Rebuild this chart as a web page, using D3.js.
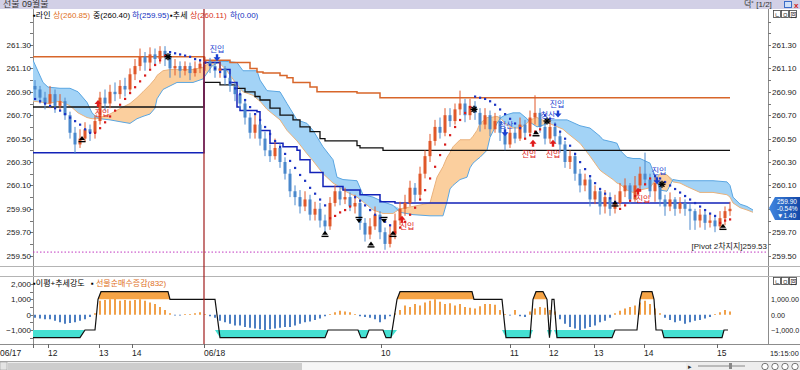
<!DOCTYPE html>
<html><head><meta charset="utf-8">
<script src="https://cdn.jsdelivr.net/npm/d3@7"></script>
<style>
body{margin:0;background:#fff;overflow:hidden}
svg{display:block;font-family:"Liberation Sans","Noto Sans CJK KR",sans-serif}
</style></head><body>
<svg id="chart" width="800" height="370"></svg>
<script>
// ---------------- DATA ----------------
const open = [260.95,260.92,260.85,260.80,260.88,260.78,260.82,260.70,260.55,260.45,
260.50,260.58,260.55,260.65,260.85,260.80,260.90,260.88,260.95,260.92,
261.05,261.12,261.20,261.15,261.22,261.18,261.25,261.20,261.10,261.12,
261.08,261.12,261.06,261.10,261.14,261.16,261.12,261.08,261.10,261.02,
260.95,260.88,260.80,260.68,260.55,260.62,260.50,260.40,260.35,260.42,
260.30,260.20,260.05,260.00,259.92,259.98,259.85,259.90,259.80,259.75,
259.95,260.05,259.98,260.00,259.92,259.95,259.78,259.68,259.75,259.85,
259.70,259.60,259.68,259.80,259.90,259.95,260.08,260.02,260.20,260.35,
260.48,260.60,260.55,260.70,260.65,260.75,260.80,260.70,260.78,260.72,
260.62,260.70,260.58,260.65,260.55,260.45,260.55,260.50,260.62,260.55,
260.68,260.72,260.60,260.50,260.60,260.52,260.45,260.30,260.35,260.20,
260.10,260.15,259.98,260.05,259.92,260.00,259.90,259.95,260.05,260.10,
259.98,260.10,260.20,260.15,260.05,260.12,259.98,259.92,259.98,259.90,
259.95,259.90,259.88,259.80,259.85,259.78,259.80,259.75,259.82,259.88];
const close = [260.92,260.85,260.80,260.88,260.78,260.82,260.70,260.55,260.45,260.50,
260.58,260.55,260.65,260.85,260.80,260.90,260.88,260.95,260.92,261.05,
261.12,261.20,261.15,261.22,261.18,261.25,261.20,261.10,261.12,261.08,
261.12,261.06,261.10,261.14,261.16,261.12,261.08,261.10,261.02,260.95,
260.88,260.80,260.68,260.55,260.62,260.50,260.40,260.35,260.42,260.30,
260.20,260.05,260.00,259.92,259.98,259.85,259.90,259.80,259.75,259.95,
260.05,259.98,260.00,259.92,259.95,259.78,259.68,259.75,259.85,259.70,
259.60,259.68,259.80,259.90,259.95,260.08,260.02,260.20,260.35,260.48,
260.60,260.55,260.70,260.65,260.75,260.80,260.70,260.78,260.72,260.62,
260.70,260.58,260.65,260.55,260.45,260.55,260.50,260.62,260.55,260.68,
260.72,260.60,260.50,260.60,260.52,260.45,260.30,260.35,260.20,260.10,
260.15,259.98,260.05,259.92,260.00,259.90,259.95,260.05,260.10,259.98,
260.10,260.20,260.15,260.05,260.12,259.98,259.92,259.98,259.90,259.95,
259.90,259.88,259.80,259.85,259.78,259.80,259.75,259.82,259.88,259.90];
const high = [261.00,260.95,260.90,260.95,260.92,260.88,260.85,260.73,260.60,260.58,
260.64,260.62,260.70,260.90,260.92,260.96,260.98,261.00,261.02,261.10,
261.18,261.27,261.24,261.28,261.27,261.29,261.29,261.24,261.18,261.16,
261.16,261.15,261.16,261.18,261.20,261.19,261.16,261.16,261.12,261.05,
260.98,260.92,260.84,260.72,260.70,260.66,260.56,260.45,260.50,260.46,
260.34,260.24,260.10,260.06,260.05,260.02,259.96,259.95,259.85,260.00,
260.10,260.08,260.08,260.04,260.02,259.98,259.82,259.82,259.92,259.88,
259.74,259.76,259.86,259.96,260.02,260.14,260.12,260.26,260.40,260.54,
260.66,260.68,260.76,260.76,260.80,260.91,260.84,260.84,260.82,260.76,
260.76,260.74,260.72,260.70,260.60,260.60,260.60,260.68,260.66,260.74,
260.87,260.76,260.64,260.66,260.64,260.56,260.48,260.40,260.38,260.24,
260.20,260.18,260.10,260.08,260.06,260.04,260.02,260.12,260.16,260.12,
260.18,260.26,260.38,260.20,260.18,260.14,260.02,260.04,260.00,260.00,
259.98,259.94,259.90,259.90,259.88,259.86,259.84,259.88,259.92,259.96];
const low = [260.85,260.80,260.75,260.76,260.72,260.74,260.66,260.50,260.37,260.42,
260.47,260.48,260.50,260.62,260.74,260.76,260.82,260.84,260.86,260.90,
261.00,261.08,261.08,261.10,261.12,261.14,261.12,261.02,261.04,261.02,
261.04,261.00,261.03,261.06,261.08,261.06,261.02,261.02,260.96,260.90,
260.82,260.75,260.62,260.50,260.50,260.44,260.35,260.30,260.32,260.25,
260.15,260.00,259.93,259.86,259.88,259.80,259.80,259.74,259.70,259.72,
259.92,259.93,259.94,259.88,259.86,259.72,259.62,259.64,259.72,259.64,
259.55,259.57,259.64,259.76,259.84,259.92,259.96,259.98,260.16,260.30,
260.44,260.50,260.52,260.60,260.62,260.70,260.64,260.66,260.66,260.56,
260.58,260.52,260.55,260.48,260.40,260.42,260.46,260.48,260.50,260.52,
260.62,260.55,260.45,260.46,260.46,260.38,260.25,260.24,260.14,260.04,
260.05,259.92,259.94,259.85,259.86,259.84,259.86,259.92,260.00,259.94,
259.96,260.06,260.10,260.00,259.96,259.92,259.84,259.88,259.84,259.86,
259.84,259.72,259.72,259.74,259.72,259.74,259.70,259.72,259.76,259.84];

// Parabolic SAR
const sar = [260.84,260.82,260.80,260.78,260.76,260.74,260.71,260.68,260.65,260.62,260.58,260.55,
260.55,260.59,260.64,260.69,260.74,260.79,260.84,260.89,260.94,260.99,261.04,261.09,261.13,261.17,261.21,
261.24,261.23,261.22,261.21,261.20,261.18,261.17,
261.15,261.13,261.10,261.07,261.03,260.98,260.93,260.88,260.83,260.77,260.71,260.66,260.60,260.54,260.48,260.43,260.37,260.31,260.25,260.19,260.14,260.08,260.03,259.98,259.93,
259.82,259.84,259.87,259.89,259.92,
260.00,259.97,259.93,259.89,259.85,259.82,259.79,259.76,
259.70,259.74,259.79,259.85,259.91,259.98,260.06,260.16,260.26,260.36,260.45,260.53,260.60,260.66,260.72,260.77,
260.86,260.85,260.84,260.82,260.79,260.75,260.71,260.67,260.63,260.59,
260.50,260.53,260.56,260.58,
260.70,260.67,260.62,260.56,260.50,260.44,260.37,260.30,260.24,260.18,260.12,260.07,260.03,259.99,259.96,
259.90,259.93,259.97,260.01,260.06,260.11,260.16,
260.18,260.16,260.13,260.10,260.07,260.04,260.01,259.98,259.95,259.92,259.89,259.86,259.84,
259.78,259.80,259.81];
const sarRuns = [[0,11,"B"],[12,26,"R"],[27,58,"B"],[59,63,"R"],[64,71,"B"],[72,87,"R"],
[88,97,"B"],[98,101,"R"],[102,116,"B"],[117,123,"R"],[124,136,"B"],[137,139,"R"]];

// Ichimoku cloud (bar index, leading span 1, leading span 2)
const cloudIdx = [-0.4,1.6,2.6,5,7,8.6,10.4,11.4,12.4,13,15,17.6,19,20.4,21.6,23,24,24.4,25.6,27,28.4,31.6,33.6,35.4,37,38.2,40.4,41.6,43.6,44.4,45,46.4,49,50.4,52.4,54.4,55.6,57.6,59.6,60.4,61.6,64.4,65.6,67.6,69.6,71.6,73,75.6,79,80.4,81.6,82.4,83,83.6,85,86.4,87,87.6,88.4,89,90.4,91,92.4,93.2,94,95.6,97,98.4,99,100.4,102,103.4,105.6,106.4,109,111,113,113.6,115.6,116.4,117,118.4,119.6,121,123,124,125,126.4,127.6,129,130.4,133,135.6,138.4,139,139.6,141,142.4,143.6];
const span1 = [260.82,260.81,260.80,260.82,260.78,260.72,260.68,260.67,260.67,260.68,260.71,260.77,260.80,260.85,260.90,260.96,261.01,261.04,261.08,261.09,261.09,261.09,261.11,261.16,261.14,261.09,260.96,260.90,260.87,260.84,260.82,260.75,260.66,260.57,260.48,260.37,260.31,260.20,260.12,260.10,260.06,260.00,259.96,259.89,259.86,259.86,259.90,259.92,259.95,260.17,260.26,260.34,260.38,260.43,260.49,260.49,260.49,260.52,260.57,260.63,260.68,260.68,260.69,260.67,260.63,260.59,260.59,260.63,260.66,260.68,260.65,260.62,260.58,260.55,260.46,260.35,260.23,260.21,260.15,260.12,260.11,260.06,260.04,260.06,260.08,260.14,260.20,260.19,260.13,260.12,260.09,260.04,260.04,260.02,260.00,259.95,259.91,259.89,259.87];
const span2 = [261.17,260.98,260.94,260.93,260.93,260.90,260.81,260.72,260.68,260.67,260.66,260.64,260.63,260.67,260.69,260.71,260.76,260.84,260.92,260.95,260.98,260.98,261.01,261.12,261.16,261.16,261.15,261.08,261.08,261.08,261.00,260.91,260.90,260.80,260.66,260.63,260.57,260.43,260.32,260.17,260.15,260.14,260.02,260.00,259.96,259.93,259.87,259.85,259.84,259.84,259.84,259.96,260.07,260.10,260.15,260.17,260.25,260.29,260.32,260.34,260.40,260.51,260.63,260.68,260.70,260.72,260.72,260.67,260.64,260.60,260.62,260.66,260.66,260.66,260.61,260.59,260.52,260.49,260.47,260.46,260.40,260.34,260.33,260.33,260.29,260.18,260.06,260.05,260.15,260.14,260.14,260.14,260.14,260.13,260.10,260.00,259.94,259.92,259.89];

// Channel lines (bar index, price), stepped
const upperLine = [[-0.4,261.20],[33.8,261.20],[33.8,261.17],[39,261.15],[43,261.10],[44.4,261.07],[45.6,261.06],[49,261.04],[50.4,261.02],[51.6,260.98],[55,260.94],[56.4,260.90],[64.4,260.89],[69,260.85],[139,260.85]];
const middleLine = [[-0.4,260.77],[33.8,260.77],[33.8,260.98],[37,260.96],[40,260.93],[42,260.90],[44,260.86],[45,260.83],[47,260.76],[49,260.70],[51.6,260.66],[53,260.60],[55,260.56],[57,260.50],[58,260.48],[64.4,260.44],[65,260.42],[69.6,260.40],[139,260.40]];
const lowerLine = [[-0.4,260.38],[33.8,260.38],[33.8,261.15],[37,261.09],[39,260.98],[40.4,260.77],[41,260.74],[44.4,260.73],[45,260.57],[47,260.46],[49.6,260.43],[52.4,260.40],[53,260.32],[55,260.21],[57.6,260.09],[61.6,260.06],[65,260.02],[69,259.96],[72,259.95],[139,259.95]];
const pivotSupport = 259.53;

// Signals
const sigIdx   = [9.4,58,67.2,71.6,100.2,116,137.6, 64.8,69.8, 26.6,87.8,102.4,125.4, 36.4,104.6,124.4,94, 12.6,73.4,99.6,103.6,120.6];
const sigPrice = [260.50,259.69,259.60,259.69,260.55,259.95,259.75, 259.80,259.80, 261.20,260.75,260.65,260.11, 261.19,260.71,260.14,260.55, 260.80,259.81,260.46,260.46,260.05];
const sigType  = ["u","u","u","u","u","u","u","d","d","s","s","s","s","S","S","S","S","B","B","B","B","B"];
const noteIdx   = [36.4,104.4,124.8,94.2,102.6, 13.4,74.4,98.8,103.6,121.6];
const notePrice = [261.27,260.80,260.22,260.62,260.70, 260.72,259.75,260.37,260.37,259.98];
const noteText  = ["진입","진입","진입","청산","청산","진입","진입","진입","진입","진입"];
const noteKind  = ["S","S","S","S","S","B","B","B","B","B"];

// Lower panel: futures net buying change and trend strength
const flow = [-200,-250,-300,-300,-400,-500,-600,-550,-500,-400,
-300,-150,100,900,950,1000,1050,900,950,900,
950,1000,900,800,700,500,300,100,-50,-50,
50,50,100,150,50,-100,-200,-400,-500,-600,
-700,-700,-800,-850,-900,-950,-1000,-950,-900,-850,
-800,-800,-700,-600,-500,-450,-350,-250,-100,50,
150,250,200,150,50,-100,-150,-200,-300,-500,
-300,-100,100,300,600,500,700,600,800,900,
1000,850,700,750,600,700,500,450,400,550,
700,700,650,300,50,-50,300,-100,-150,200,
400,500,450,300,200,-300,-600,-800,-900,-1000,
-900,-800,-700,-500,-400,-200,100,250,400,500,
600,800,900,700,400,100,-200,-350,-500,-400,
-600,-500,-400,-350,-250,-150,50,150,300,200];
const strength = [[-0.4,-1500],[9,-1500],[10,-1000],[12,-1000],[12.6,1000],[13.2,1500],[26.6,1500],[27,1000],[36,1000],[37,-1500],
[58,-1500],[58.6,-1000],[64.6,-1000],[65.2,-1500],[66.2,-1500],[66.8,-1000],[69.6,-1000],[70.2,-1500],[71.2,-1500],[72.4,1000],[73,1500],
[87.4,1500],[87.8,1000],[93.4,1000],[94.2,-1500],[99,-1500],[99.6,1000],[100.2,1500],[101.6,1500],[102.4,1000],[102.9,-1500],[103.4,1000],[103.8,1000],[104.4,-1500],
[115.4,-1500],[116,-1000],[120.4,-1000],[121,1000],[121.4,1500],[123.4,1500],[123.8,1000],[124.2,-1000],[125.4,-1000],[125.8,-1500],[137.4,-1500],[137.8,-1000],[138.6,-1000]];

// Axes
const priceTicks = [261.30,261.10,260.90,260.70,260.50,260.30,260.10,259.90,259.70,259.50];
const lowTicksL = [2000,1000,0,-1000];
const lowTicksR = [1000,0,-1000];
const timeIdx = [-0.4,2.6,12.8,19.4,33.8,69.2,95,102.8,111.8,121.8,136.4];
const timeLbl = ["06/17","12","13","14","06/18","10","11","12","13","14","15"];

// ---------------- DRAW ----------------
const svg = d3.select("#chart");
const X = d3.scaleLinear().domain([-0.4,146.6]).range([33,768]);
const Y = d3.scaleLinear().domain([259.50,261.30]).range([255.6,45]);
const Y2 = d3.scaleLinear().domain([-1000,2000]).range([330,284]);
const FS = 8;

const defs = svg.append("defs");
defs.append("clipPath").attr("id","cm").append("rect").attr("x",33).attr("y",9).attr("width",735).attr("height",257);
defs.append("clipPath").attr("id","cl").append("rect").attr("x",33).attr("y",276).attr("width",735).attr("height",68);
const grad = defs.append("linearGradient").attr("id","bg").attr("x1","0").attr("x2","1");
grad.append("stop").attr("offset","0").attr("stop-color","#3f86e0");
grad.append("stop").attr("offset","1").attr("stop-color","#1448a8");

svg.append("rect").attr("width",800).attr("height",370).attr("fill","#fff");

// title bar
svg.append("rect").attr("x",0).attr("y",0).attr("width",800).attr("height",9).attr("fill","#d2d0e6");
svg.append("text").attr("x",3).attr("y",7).attr("font-size",9).attr("fill","#333").text("선물 09월물");
svg.append("text").attr("x",744).attr("y",7).attr("font-size",8).attr("fill","#333").text("덕˚ [1/2]");
svg.append("rect").attr("x",784.5).attr("y",1.5).attr("width",7).attr("height",6).attr("fill","#cfe0f8").attr("stroke","#3a6cc8");
svg.append("text").attr("x",794).attr("y",8).attr("font-size",8).attr("fill","#d02020").attr("font-weight","bold").text("x");

// frame lines
const frame = svg.append("g").attr("stroke","#8c8c8c").attr("stroke-width",1);
frame.append("line").attr("x1",33.5).attr("x2",33.5).attr("y1",9).attr("y2",344);
frame.append("line").attr("x1",768.5).attr("x2",768.5).attr("y1",9).attr("y2",344);
frame.append("line").attr("x1",0).attr("x2",800).attr("y1",266.5).attr("y2",266.5).attr("stroke","#b4b4b4");
frame.append("line").attr("x1",0).attr("x2",800).attr("y1",276.5).attr("y2",276.5).attr("stroke","#b4b4b4");
frame.append("line").attr("x1",0).attr("x2",800).attr("y1",344.5).attr("y2",344.5);

// minor ticks on price axis
const minor = d3.range(259.4,261.65,0.1);
svg.append("g").selectAll("line").data(minor).join("line")
  .attr("x1",30).attr("x2",33).attr("y1",d=>Math.round(Y(d))+0.5).attr("y2",d=>Math.round(Y(d))+0.5)
  .attr("stroke","#777").filter(d=>Y(d)<10||Y(d)>265).remove();
svg.append("g").selectAll("line").data(minor).join("line")
  .attr("x1",768).attr("x2",771).attr("y1",d=>Math.round(Y(d))+0.5).attr("y2",d=>Math.round(Y(d))+0.5)
  .attr("stroke","#777").filter(d=>Y(d)<10||Y(d)>265).remove();

// price labels
svg.append("g").selectAll("text").data(priceTicks).join("text")
  .attr("x",31).attr("y",d=>Y(d)+3).attr("text-anchor","end").attr("font-size",FS).attr("fill","#222")
  .text(d=>d.toFixed(2));
svg.append("g").selectAll("text").data(priceTicks.filter(d=>d!==259.90)).join("text")
  .attr("x",772).attr("y",d=>Y(d)+3).attr("font-size",FS).attr("fill","#222")
  .text(d=>d.toFixed(2));

// legend top
const leg = svg.append("text").attr("y",18).attr("font-size",FS);
[["▪라인",33,"#000"],["상(260.85)",53,"#e0701c"],["중(260.40)",93,"#000"],["하(259.95)",132,"#1030c0"],
 ["▪추세",170,"#000"],["상(260.11)",190,"#d83018"],["하(0.00)",230,"#1030c0"]]
 .forEach(s=>leg.append("tspan").attr("x",s[1]).attr("fill",s[2]).text(s[0]));

// top-right small icons
function icons(y0){
  const g = svg.append("g");
  [773,781,789].forEach((xx,k)=>{
    g.append("rect").attr("x",xx+0.5).attr("y",y0+0.5).attr("width",7).attr("height",7).attr("fill","#fff").attr("stroke","#444").attr("stroke-width",0.8);
    g.append("text").attr("x",xx+1.5).attr("y",y0+6.5).attr("font-size",6).attr("fill","#222").text(["ㄴ","ㅁ","回"][k]);
  });
}
icons(10); icons(277);

// ---- main panel ----
const main = svg.append("g").attr("clip-path","url(#cm)");

main.append("line").attr("x1",33).attr("x2",768).attr("y1",Y(pivotSupport)).attr("y2",Y(pivotSupport))
  .attr("stroke","#c038c0").attr("stroke-width",1).attr("stroke-dasharray","1.5,2");

// cloud
const cd = cloudIdx.map((d,i)=>({i:d,a:span1[i],b:span2[i]}));
main.append("path").datum(cd).attr("fill","#fbcf9e")
  .attr("d",d3.area().x(d=>X(d.i)).y0(d=>Y(d.b)).y1(d=>Y(Math.max(d.a,d.b))));
main.append("path").datum(cd).attr("fill","#a3d3f6")
  .attr("d",d3.area().x(d=>X(d.i)).y0(d=>Y(d.a)).y1(d=>Y(Math.max(d.a,d.b))));
main.append("path").datum(cd).attr("fill","none").attr("stroke","#eab27c").attr("stroke-width",1)
  .attr("d",d3.line().x(d=>X(d.i)).y(d=>Y(d.a)));
main.append("path").datum(cd).attr("fill","none").attr("stroke","#5aa6e2").attr("stroke-width",1)
  .attr("d",d3.line().x(d=>X(d.i)).y(d=>Y(d.b)));

// channel lines
const stepLine = d3.line().x(d=>X(d[0])).y(d=>Y(d[1])).curve(d3.curveStepAfter);
main.append("path").datum(upperLine).attr("fill","none").attr("stroke","#d8662a").attr("stroke-width",1.5).attr("d",stepLine);
main.append("path").datum(middleLine).attr("fill","none").attr("stroke","#111").attr("stroke-width",1.3).attr("d",stepLine);
main.append("path").datum(lowerLine).attr("fill","none").attr("stroke","#1222b8").attr("stroke-width",1.5).attr("d",stepLine);

// candles
const cdl = close.map((c,i)=>({i,o:open[i],h:high[i],l:low[i],c}));
const cg = main.append("g");
cg.selectAll("line").data(cdl).join("line")
  .attr("x1",d=>X(d.i)).attr("x2",d=>X(d.i)).attr("y1",d=>Y(d.h)).attr("y2",d=>Y(d.l))
  .attr("stroke",d=>d.c>=d.o?"#e0582a":"#4a88cc").attr("stroke-width",1);
cg.selectAll("rect").data(cdl).join("rect")
  .attr("x",d=>X(d.i)-1.5).attr("width",3)
  .attr("y",d=>Y(Math.max(d.o,d.c))).attr("height",d=>Math.max(1,Math.abs(Y(d.o)-Y(d.c))))
  .attr("fill",d=>d.c>=d.o?"#e0582a":"#4a88cc");

// SAR dots
const sarCol = [];
sarRuns.forEach(r=>{for(let k=r[0];k<=r[1];k++) sarCol[k]=r[2];});
main.append("g").selectAll("rect").data(sar).join("rect")
  .attr("x",(d,i)=>X(i)-1).attr("y",d=>Y(d)-1).attr("width",2.2).attr("height",2.2)
  .attr("fill",(d,i)=>sarCol[i]==="B"?"#1c34c4":"#d81c1c");

// signals
const sg = main.append("g");
sigIdx.forEach((si,k)=>{
  const cx=X(si), cy=Y(sigPrice[k]), t=sigType[k];
  if(t==="u"){
    sg.append("path").attr("d",`M${cx-3},${cy+1.5}L${cx},${cy-2.5}L${cx+3},${cy+1.5}Z`).attr("fill","#000");
    sg.append("rect").attr("x",cx-3.5).attr("y",cy+2.3).attr("width",7).attr("height",1.4).attr("fill","#000");
  } else if(t==="d"){
    sg.append("rect").attr("x",cx-3.5).attr("y",cy-3.7).attr("width",7).attr("height",1.4).attr("fill","#000");
    sg.append("path").attr("d",`M${cx-3},${cy-1.5}L${cx},${cy+2.5}L${cx+3},${cy-1.5}Z`).attr("fill","#000");
  } else if(t==="s"){
    const r=3.5;
    [[r,0],[0,r],[r*0.7,r*0.7],[r*0.7,-r*0.7]].forEach(v=>
      sg.append("line").attr("x1",cx-v[0]).attr("y1",cy-v[1]).attr("x2",cx+v[0]).attr("y2",cy+v[1])
        .attr("stroke","#000").attr("stroke-width",1.4));
  } else if(t==="S"){
    sg.append("path").attr("d",`M${cx},${cy+3.5}L${cx+3.5},${cy-0.5}L${cx+1.2},${cy-0.5}L${cx+1.2},${cy-3.5}L${cx-1.2},${cy-3.5}L${cx-1.2},${cy-0.5}L${cx-3.5},${cy-0.5}Z`).attr("fill","#1a3fd0");
  } else {
    sg.append("path").attr("d",`M${cx},${cy-3.5}L${cx+3.5},${cy+0.5}L${cx+1.2},${cy+0.5}L${cx+1.2},${cy+3.5}L${cx-1.2},${cy+3.5}L${cx-1.2},${cy+0.5}L${cx-3.5},${cy+0.5}Z`).attr("fill","#e01c1c");
  }
});
main.append("g").selectAll("text").data(noteText).join("text")
  .attr("x",(d,k)=>X(noteIdx[k])).attr("y",(d,k)=>Y(notePrice[k])+3).attr("text-anchor","middle")
  .attr("font-size",FS).attr("fill",(d,k)=>noteKind[k]==="S"?"#1a3fd0":"#e01c1c").text(d=>d);

// pivot label
svg.append("text").attr("x",767).attr("y",249).attr("text-anchor","end").attr("font-size",FS).attr("fill","#222")
  .text("[Pivot 2차지지]259.53");

// last price badge
svg.append("path").attr("d","M769,208L775,197L800,197L800,220L775,220Z").attr("fill","url(#bg)");
[["259.90",203.5],["-0.54%",210.5],["▼1.40",217.5]].forEach(t=>
  svg.append("text").attr("x",777).attr("y",t[1]).attr("font-size",6.5).attr("fill","#fff").text(t[0]));

// ---- lower panel ----
const low2 = svg.append("g").attr("clip-path","url(#cl)");
low2.append("g").selectAll("line").data(flow).join("line")
  .attr("x1",(d,i)=>X(i)).attr("x2",(d,i)=>X(i)).attr("y1",Y2(0)).attr("y2",d=>Y2(d))
  .attr("stroke",d=>d>=0?"#f0a04a":"#4c7ec2").attr("stroke-width",2);
low2.append("path").datum(strength).attr("fill","#f6a446")
  .attr("d",d3.area().x(d=>X(d[0])).y0(Y2(1000)).y1(d=>Y2(Math.max(d[1],1000))));
low2.append("path").datum(strength).attr("fill","#44e0d2")
  .attr("d",d3.area().x(d=>X(d[0])).y0(Y2(-1000)).y1(d=>Y2(Math.min(d[1],-1000))));
low2.append("path").datum(strength).attr("fill","none").attr("stroke","#111").attr("stroke-width",1.2)
  .attr("d",d3.line().x(d=>X(d[0])).y(d=>Y2(d[1])));

svg.append("g").selectAll("text").data(lowTicksL).join("text")
  .attr("x",31).attr("y",d=>Y2(d)+3).attr("text-anchor","end").attr("font-size",FS).attr("fill","#222")
  .text(d=>d3.format(",")(d));
svg.append("g").selectAll("text").data(lowTicksR).join("text")
  .attr("x",771).attr("y",d=>Y2(d)+3).attr("font-size",7.2).attr("fill","#222")
  .text(d=>d3.format(",.2f")(d).slice(0,8));
const minor2 = d3.range(-1500,2600,500);
svg.append("g").selectAll("line").data(minor2).join("line")
  .attr("x1",30).attr("x2",33).attr("y1",d=>Math.round(Y2(d))+0.5).attr("y2",d=>Math.round(Y2(d))+0.5)
  .attr("stroke","#777").filter(d=>Y2(d)<277||Y2(d)>343).remove();
const leg2 = svg.append("text").attr("y",286).attr("font-size",FS);
[["▪이평+추세강도",33,"#000"],["▪",91,"#000"],["선물순매수증감(832)",96,"#e0701c"]]
  .forEach(s=>leg2.append("tspan").attr("x",s[1]).attr("fill",s[2]).text(s[0]));

// date divider
svg.append("line").attr("x1",X(33.8)).attr("x2",X(33.8)).attr("y1",9).attr("y2",344)
  .attr("stroke","#a01c1c").attr("stroke-width",1.2);

// time axis
svg.append("g").selectAll("line").data(timeIdx).join("line")
  .attr("x1",d=>Math.round(X(d))+0.5).attr("x2",d=>Math.round(X(d))+0.5).attr("y1",344).attr("y2",348).attr("stroke","#666");
svg.append("g").selectAll("text").data(timeLbl).join("text")
  .attr("x",(d,k)=>k===0?0:X(timeIdx[k])).attr("y",356).attr("font-size",FS+0.5).attr("fill","#222")
  .text(d=>d);
svg.append("text").attr("x",770).attr("y",356).attr("font-size",7.4).attr("fill","#222").text("15:15:00");

// scroll bar
svg.append("rect").attr("x",0).attr("y",361).attr("width",800).attr("height",9).attr("fill","#ededed");
svg.append("line").attr("x1",0).attr("x2",800).attr("y1",361.5).attr("y2",361.5).attr("stroke","#a8a8a8");
svg.append("rect").attr("x",0).attr("y",362).attr("width",7).attr("height",8).attr("fill","#e4e4e4").attr("stroke","#999").attr("stroke-width",0.6);
svg.append("rect").attr("x",8).attr("y",363).attr("width",294).attr("height",7).attr("fill","#cdcdcd");
svg.append("rect").attr("x",302).attr("y",363).attr("width",384).attr("height",7).attr("fill","#f6f6f6");
svg.append("text").attr("x",688).attr("y",369).attr("font-size",7).attr("fill","#333").text("▸");
svg.append("line").attr("x1",698).attr("x2",745).attr("y1",366).attr("y2",366).attr("stroke","#888");
svg.append("rect").attr("x",729).attr("y",363).attr("width",3).attr("height",6).attr("fill","#888");
[765,775,785,795].forEach(cx=>svg.append("circle").attr("cx",cx).attr("cy",366.5).attr("r",3.2).attr("fill","#fff").attr("stroke","#555").attr("stroke-width",0.8));
</script>
</body></html>
